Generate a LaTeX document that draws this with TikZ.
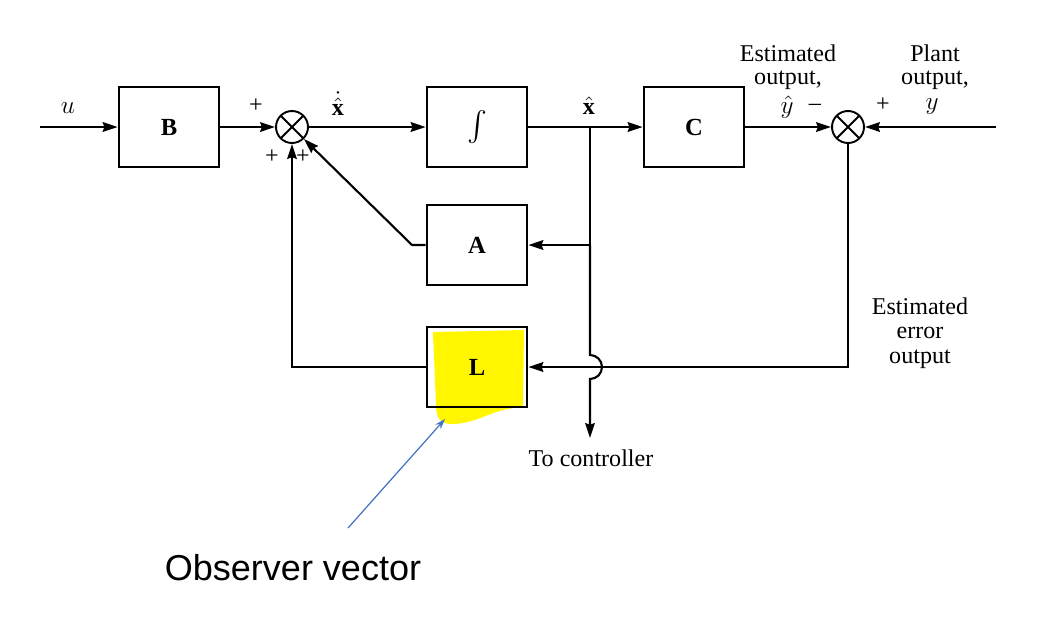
\documentclass[tikz,border=0pt]{standalone}
\usepackage{fontspec}
\setmainfont{Liberation Serif}
\newfontfamily\obsfont{Liberation Sans}
\usetikzlibrary{arrows.meta}
\definecolor{hiyellow}{RGB}{255,246,0}
\definecolor{obsblue}{RGB}{68,114,196}
\begin{document}
\begin{tikzpicture}[x=0.02cm,y=-0.02cm,
  blk/.style={draw,line width=1.6pt,minimum width=2cm,minimum height=1.6cm,inner sep=0pt,font=\fontsize{14}{16}\selectfont\bfseries},
  sumj/.style={draw,circle,line width=1.1pt,minimum size=0.64cm,inner sep=0pt,
    path picture={\draw[line width=1.1pt] (path picture bounding box.north west)--(path picture bounding box.south east)
      (path picture bounding box.north east)--(path picture bounding box.south west);}},
  con/.style={line width=1.2pt},
  arr/.style={con,-{Stealth[length=8.5pt,width=5.5pt,inset=1pt]}},
  lbl/.style={font=\fontsize{13.7}{16}\selectfont,inner sep=0pt}
]
\useasboundingbox (0,0) rectangle (1046,637);
% yellow highlight
\fill[hiyellow] (433,332) -- (524,330) -- (523,406) -- (508,409)
  .. controls (490,412) and (478,422) .. (455,424)
  .. controls (440,425) and (436,418) .. (436,405) -- cycle;
% blocks
\node[blk] (B) at (169,127) {B};
\node[blk] (I) at (477,127) {\scalebox{1.7}{$\int$}};
\node[blk] (C) at (694,127) {C};
\node[blk] (A) at (477,245) {A};
\node[blk] (L) at (477,367) {L};
\node[sumj] (s1) at (292,127) {};
\node[sumj] (s2) at (848,127) {};
% coordinates
\coordinate (uin) at (40,127);
\coordinate (yin) at (996,127);
\coordinate (br) at (590,127);
\coordinate (brA) at (590,245);
\coordinate (jt) at (590,355);
\coordinate (ctrl) at (590,438);
\coordinate (e1) at (848,367);
\coordinate (lc) at (292,367);
\coordinate (ak) at (412,245);
% connectors
\draw[arr] (uin) -- (B.west);
\draw[arr] (B.east) -- (s1.west);
\draw[arr] (s1.east) -- (I.west);
\draw[arr] (I.east) -- (C.west);
\draw[arr] (C.east) -- (s2.west);
\draw[arr] (yin) -- (s2.east);
\draw[arr] (br) -- (brA) -- (A.east);
\draw[arr] (brA) -- (jt) arc[start angle=-90,end angle=90,radius=12] -- (ctrl);
\draw[arr] (A.west) -- (ak) -- (s1.-45);
\draw[arr] (L.west) -- (lc) -- (s1.south);
\draw[arr] (s2.south) -- (e1) -- (L.east);
% labels
\node[lbl] (lu) at (68,108) {$u$};
\node[lbl] (p1) at (256,106) {+};
\node[lbl] (p2) at (272,157) {+};
\node[lbl] (p3) at (303,157) {+};
\node[lbl] (lxd) at (338,104) {$\dot{\hat{\mathbf{x}}}$};
\node[lbl] (lxh) at (589,106) {$\hat{\mathbf{x}}$};
\node[lbl] (eo1) at (788,53) {Estimated};
\node[lbl] (eo2) at (788,80) {output,};
\node[lbl] (lyh) at (787,107) {$\hat{y}$};
\node[lbl] (mn) at (815,107) {--};
\node[lbl] (po1) at (935,53) {Plant};
\node[lbl] (po2) at (935,80) {output,};
\node[lbl] (ly) at (932,107) {$y$};
\node[lbl] (p4) at (883,105) {+};
\node[lbl] (ee1) at (920,306) {Estimated};
\node[lbl] (ee2) at (920,333) {error};
\node[lbl] (ee3) at (920,359) {output};
\node[lbl] (tc) at (591,458) {To controller};
% observer annotation
\node[inner sep=0pt,font=\obsfont\fontsize{20.5}{24}\selectfont] (obs) at (293,568) {Observer vector};
\coordinate (obst) at (348,528);
\coordinate (obsh) at (445,419);
\draw[obsblue,line width=0.7pt,-{Stealth[length=6pt,width=4pt]}] (obst) -- (obsh);
\end{tikzpicture}
\end{document}
